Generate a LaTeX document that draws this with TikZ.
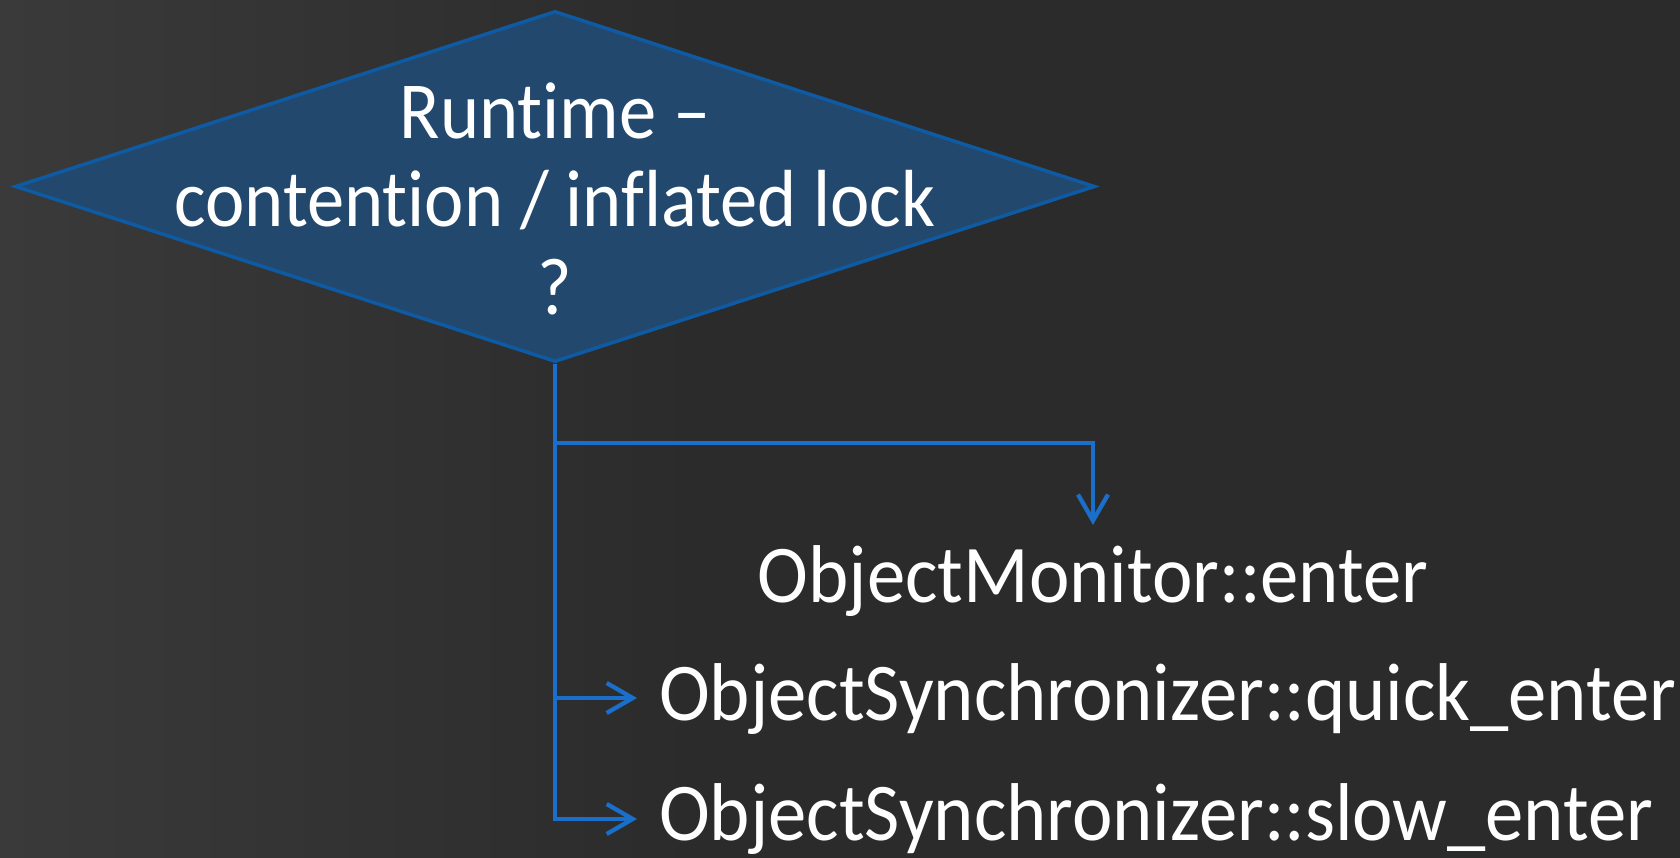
\documentclass[tikz,border=0pt]{standalone}
\usepackage{fontspec}
\setmainfont{Carlito}[Ligatures=NoCommon, FakeStretch=0.92]
\newfontfamily\callfont{Carlito}[Ligatures=NoCommon, FakeStretch=0.935]
\usetikzlibrary{shapes.geometric,arrows.meta,calc}
\definecolor{bgdark}{HTML}{2B2B2B}
\definecolor{bglight}{HTML}{3A3A3A}
\definecolor{decfill}{HTML}{23486E}
\definecolor{decline}{HTML}{0E5AA3}
\definecolor{flow}{HTML}{1A6FCA}
\begin{document}
\begin{tikzpicture}[x=1pt,y=-1pt,
  decision/.style={diamond, draw=decline, fill=decfill, line width=3.5pt,
    inner sep=0pt, minimum width=1080pt, minimum height=351pt},
  dectext/.style={align=center, text=white, inner sep=0pt,
    font=\fontsize{81}{88}\selectfont},
  calltext/.style={text=white, inner sep=0pt, font=\callfont\fontsize{82}{100}\selectfont},
  conn/.style={draw=flow, line width=4.3pt, line join=miter},
  tip/.style={-{Straight Barb[length=26pt,width=30pt,line width=4.3pt]}}]
  % background
  \fill[bgdark] (0,0) rectangle (1680,858);
  \shade[left color=bglight, right color=bgdark] (0,0) rectangle (700,858);
  \useasboundingbox (0,0) rectangle (1680,858);

  % decision
  \node[decision] (d) at (555,186.5) {};
  \node[dectext] (dt) at (555,199) {Runtime –\\contention / inflated lock\\?};

  % callees
  \node[calltext, anchor=base] (mon) at (1093,602) {ObjectMonitor::enter};
  \node[calltext, anchor=base west] (q) at (659,720) {ObjectSynchronizer::quick\_enter};
  \node[calltext, anchor=base west] (s) at (659,840) {ObjectSynchronizer::slow\_enter};

  % branch points on the trunk
  \coordinate (j1) at (555,443);
  \coordinate (j2) at (555,698);
  \coordinate (j3) at (555,819);

  % connectors
  \draw[conn, tip, shorten >=22pt] (d.south) -- (j3) -- (j3 -| s.west);
  \draw[conn, tip, shorten >=22pt] (j2) -- (j2 -| q.west);
  \draw[conn, tip, shorten >=20pt] (j1) -| (mon.north);
\end{tikzpicture}
\end{document}
